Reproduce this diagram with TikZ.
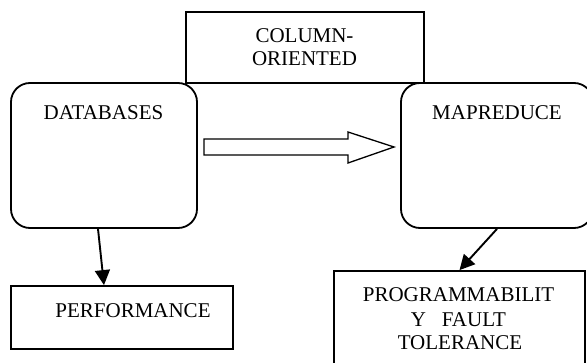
\documentclass[tikz,border=0pt]{standalone}
\usepackage{fontspec}
\setmainfont{Liberation Serif}
\usetikzlibrary{arrows.meta}
\begin{document}
\begin{tikzpicture}[x=1pt,y=-1pt,
  box/.style={draw,line width=1.8pt,inner sep=0pt},
  rbox/.style={box,rounded corners=19pt},
  lbl/.style={anchor=base,inner sep=0pt,font=\fontsize{21}{24}\selectfont},
  link/.style={line width=1.9pt,-{Triangle[length=15pt,width=15pt]}},
  hollow/.style={draw,line width=1.3pt,line join=miter}]
\useasboundingbox (0,0) rectangle (587,363);
\clip (0,0) rectangle (587,363);
% boxes
\node[box,minimum width=238pt,minimum height=71pt] (col) at (305,47.5) {};
\node[rbox,minimum width=186pt,minimum height=145pt] (db) at (104,155.5) {};
\node[rbox,minimum width=192pt,minimum height=145pt] (mr) at (497,155.5) {};
\node[box,minimum width=222pt,minimum height=63pt] (perf) at (122,317.5) {};
\node[box,minimum width=251pt,minimum height=119pt] (prog) at (459.5,330.5) {};
% texts
\node[lbl] (colt1) at (304.5,43) {COLUMN-};
\node[lbl] (colt2) at (304.5,66) {ORIENTED};
\node[lbl] (dbt) at (103.5,120) {DATABASES};
\node[lbl] (mrt) at (497,120) {MAPREDUCE};
\node[lbl] (perft) at (133,318) {PERFORMANCE};
\node[lbl] (progt1) at (458.5,302) {PROGRAMMABILIT};
\node[lbl] (progt2) at (458.5,327) {Y~~~FAULT};
\node[lbl] (progt3) at (460,350) {TOLERANCE};
% hollow block arrow
\draw[hollow] (204,139) -- (348,139) -- (348,132) -- (394,147) -- (348,163)
  -- (348,155) -- (204,155) -- cycle;
% connectors
\draw[link] ([xshift=-6pt]db.south) -- ([xshift=-18pt]perf.north);
\draw[link] (mr.south) -- (prog.north);
\end{tikzpicture}
\end{document}
